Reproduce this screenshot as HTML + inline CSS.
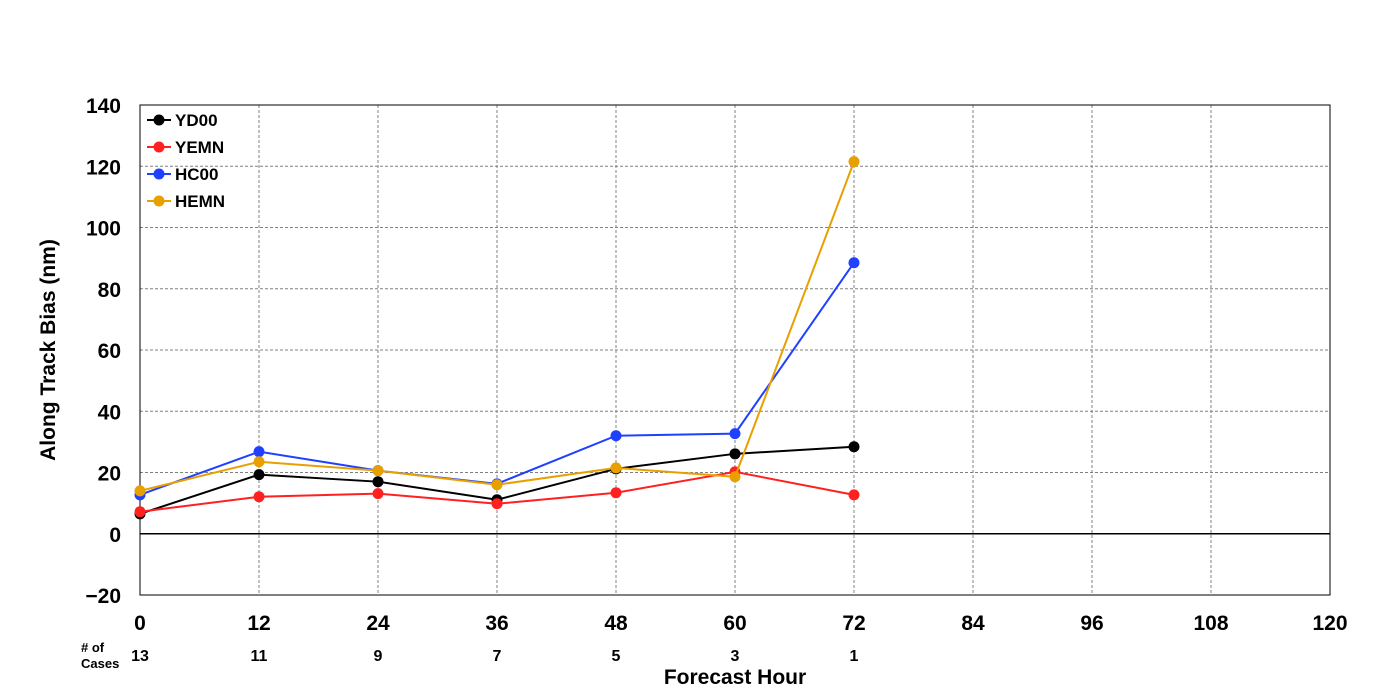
<!DOCTYPE html>
<html><head><meta charset="utf-8"><style>
html,body{margin:0;padding:0;background:#fff;}
svg{display:block;font-family:"Liberation Sans","DejaVu Sans",sans-serif;}
</style></head><body>
<svg id="chart" width="1400" height="700">
<g id="grid"></g>
<g id="axes"></g>
<g id="series"></g>
<g id="legend"></g>
</svg>
<script>
const hours = [0, 12, 24, 36, 48, 60, 72];
const cases = [13, 11, 9, 7, 5, 3, 1];
const xTicks = [0, 12, 24, 36, 48, 60, 72, 84, 96, 108, 120];
const yTicks = [-20, 0, 20, 40, 60, 80, 100, 120, 140];
const seriesNames = ["YD00", "YEMN", "HC00", "HEMN"];
const seriesColors = ["#000000", "#ff2020", "#2040ff", "#e8a000"];
const yd00 = [6.5, 19.3, 17.0, 11.1, 21.2, 26.1, 28.4];
const yemn = [7.2, 12.1, 13.1, 9.8, 13.4, 20.2, 12.7];
const hc00 = [12.7, 26.8, 20.6, 16.3, 32.0, 32.7, 88.5];
const hemn = [14.0, 23.5, 20.6, 16.0, 21.5, 18.6, 121.5];
const allSeries = [yd00, yemn, hc00, hemn];

const L=140,R=1330,T=105,B=595,xMin=0,xMax=120,yMin=-20,yMax=140;
const xS=v=>L+(v-xMin)/(xMax-xMin)*(R-L);
const yS=v=>B-(v-yMin)/(yMax-yMin)*(B-T);
const NS="http://www.w3.org/2000/svg";
function mk(tag,attrs,parent,text){const e=document.createElementNS(NS,tag);for(const k in attrs)e.setAttribute(k,attrs[k]);if(text!==undefined)e.textContent=text;parent.appendChild(e);return e;}
const grid=document.getElementById('grid'),axes=document.getElementById('axes'),ser=document.getElementById('series'),leg=document.getElementById('legend');

xTicks.forEach(t=>{
  if(t>xMin&&t<xMax){const g=mk('line',{x1:xS(t),x2:xS(t),y1:T,y2:B,stroke:'#808080','stroke-width':1,'stroke-dasharray':'3,2'},grid);
  
  }
  const tl=mk('text',{x:xS(t),y:630,'text-anchor':'middle','font-size':21,'font-weight':'bold'},axes,String(t));
  
  
});
yTicks.forEach(t=>{
  if(t>yMin&&t<yMax&&t!==0){const g=mk('line',{x1:L,x2:R,y1:yS(t),y2:yS(t),stroke:'#808080','stroke-width':1,'stroke-dasharray':'3,2'},grid);
  
  }
  const tl=mk('text',{x:121,y:yS(t)+8,'text-anchor':'end','font-size':21,'font-weight':'bold'},axes,t<0?'\u2212'+Math.abs(t):String(t));
  
  
});
const zl=mk('line',{x1:L,x2:R,y1:yS(0),y2:yS(0),stroke:'#000','stroke-width':1.5},axes);


const fr=mk('rect',{x:L,y:T,width:R-L,height:B-T,fill:'none',stroke:'#000','stroke-width':1},axes);


const yt=mk('text',{x:55,y:350,'text-anchor':'middle','font-size':21,'font-weight':'bold',transform:'rotate(-90 55 350)'},axes,'Along Track Bias (nm)');


const xt=mk('text',{x:735,y:684,'text-anchor':'middle','font-size':21,'font-weight':'bold'},axes,'Forecast Hour');


const c1=mk('text',{x:81,y:652,'font-size':13,'font-weight':'bold'},axes,'# of');


const c2=mk('text',{x:81,y:668,'font-size':13,'font-weight':'bold'},axes,'Cases');


cases.forEach((c,i)=>{const t=mk('text',{x:xS(hours[i]),y:661,'text-anchor':'middle','font-size':16,'font-weight':'bold'},axes,String(c));
  
  });

allSeries.forEach((vals,si)=>{
  const col=seriesColors[si];
  const pts=vals.map((v,i)=>xS(hours[i])+','+yS(v)).join(' ');
  const pl=mk('polyline',{points:pts,fill:'none',stroke:col,'stroke-width':2},ser);
  
  
  vals.forEach((v,i)=>{const c=mk('circle',{cx:xS(hours[i]),cy:yS(v),r:5.5,fill:col},ser);
    
    });
  const ly=120+si*27;
  const ll=mk('line',{x1:147,x2:171,y1:ly,y2:ly,stroke:col,'stroke-width':2},leg);
  
  
  const lc=mk('circle',{cx:159,cy:ly,r:5.5,fill:col},leg);
  
  
  const lt=mk('text',{x:175,y:ly+6,'font-size':17,'font-weight':'bold'},leg,seriesNames[si]);
  
  
});
</script>
</body></html>
